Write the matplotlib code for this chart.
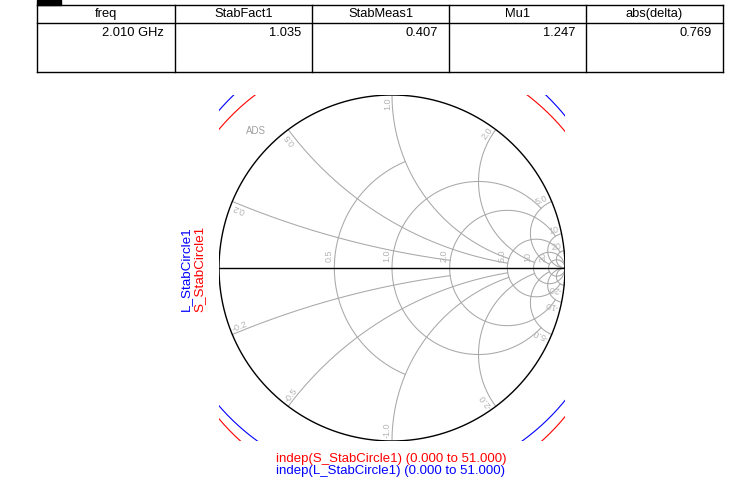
import numpy as np
import matplotlib.pyplot as plt

plt.rcParams['font.family'] = ['Liberation Sans', 'DejaVu Sans']

# table data
col_names = ['freq', 'StabFact1', 'StabMeas1', 'Mu1', 'abs(delta)']
col_values = ['2.010 GHz', '1.035', '0.407', '1.247', '0.769']

# stability circles (centre x, centre y, radius) in reflection-coefficient plane
s_circle = (-0.005, -0.035, 1.30)
l_circle = (-0.013, 0.057, 1.305)

# smith chart grid values
r_vals = [0.5, 1.0, 2.0, 5.0, 10.0, 20.0]
r_limits = [1.0, 5.0, 10.0, 20.0, np.inf, np.inf]
x_vals = [0.2, 0.5, 1.0, 2.0, 5.0, 10.0, 20.0]
x_limits = [2.0, 5.0, 5.0, 10.0, 20.0, np.inf, np.inf]
r_labels = ['0.5', '1.0', '2.0', '5.0', '10', '20']
x_labels = ['0.2', '0.5', '1.0', '2.0', '5.0', '10', '20']

W, H = 732, 495
fig = plt.figure(figsize=(W / 100, H / 100), dpi=100)

# ---- table ----
tab = fig.add_axes([0, 0, 1, 1])
tab.set_xlim(0, W)
tab.set_ylim(H, 0)
tab.axis('off')
cols = [37, 175, 312, 449, 586, 723]
top, sep, bot = 5, 23, 72
tab.fill_between([37, 61], 0, 5, color='black')
for yy in [top, sep, bot]:
    tab.plot([cols[0], cols[-1]], [yy, yy], color='black', lw=1)
for xx in cols:
    tab.plot([xx, xx], [top, bot], color='black', lw=1)
for i in range(5):
    tab.text((cols[i] + cols[i + 1]) / 2, 14, col_names[i], ha='center', va='center', fontsize=9.3)
    tab.text(cols[i + 1] - 11, 33, col_values[i], ha='right', va='center', fontsize=9.3)

# side and bottom labels
tab.text(186, 269, 'L_StabCircle1', color='blue', rotation=90, ha='center', va='center', fontsize=9.7)
tab.text(200, 269, 'S_StabCircle1', color='red', rotation=90, ha='center', va='center', fontsize=9.7)
tab.text(391, 459, 'indep(S_StabCircle1) (0.000 to 51.000)', color='red', ha='center', va='center', fontsize=9.5)
tab.text(391, 471, 'indep(L_StabCircle1) (0.000 to 51.000)', color='blue', ha='center', va='center', fontsize=9.5)

# ---- smith chart ----
x0, y0, side = 219, 95, 346
ax = fig.add_axes([x0 / W, 1 - (y0 + side) / H, side / W, side / H])
ax.set_xlim(-1, 1)
ax.set_ylim(-1, 1)
ax.axis('off')

grid_c = '#a8a8a8'
lab_c = '#b4b4b4'


def gamma(z):
    return (z - 1) / (z + 1)


for r, lim in zip(r_vals, r_limits):
    phi = np.linspace(-np.arctan(lim), np.arctan(lim), 600)
    g = gamma(r + 1j * np.tan(np.clip(phi, -1.5707, 1.5707)))
    ax.plot(g.real, g.imag, color=grid_c, lw=0.75)

for xv, lim in zip(x_vals, x_limits):
    phi = np.linspace(0, np.arctan(lim), 600)
    for s in [1, -1]:
        g = gamma(np.tan(np.clip(phi, 0, 1.5707)) + 1j * s * xv)
        ax.plot(g.real, g.imag, color=grid_c, lw=0.75)

t = np.linspace(0, 2 * np.pi, 721)
ax.plot(np.cos(t), np.sin(t), color='black', lw=1.0)
ax.plot([-1, 1], [0, 0], color='black', lw=1.0)

for r, lab in zip(r_vals, r_labels):
    gl = (r - 1) / (r + 1)
    ax.text(gl - 0.005, 0.035, lab, rotation=90, ha='left', va='bottom', color=lab_c, fontsize=6.5,
            rotation_mode='anchor')

for xv, lab in zip(x_vals, x_labels):
    for s in [1, -1]:
        g = gamma(1j * s * xv) * 0.985
        ang = np.degrees(np.angle(g))
        if s > 0:
            ax.text(g.real, g.imag, lab, rotation=ang, ha='right', va='bottom', color=lab_c,
                    fontsize=6.5, rotation_mode='anchor')
        else:
            ax.text(g.real, g.imag, '-' + lab, rotation=ang + 180, ha='left', va='bottom', color=lab_c,
                    fontsize=6.5, rotation_mode='anchor')

ax.text(-0.785, 0.79, 'ADS', color='#a0a0a0', fontsize=7, ha='center', va='center')

for (cx, cy, rad), col in [(s_circle, 'red'), (l_circle, 'blue')]:
    ax.plot(cx + rad * np.cos(t), cy + rad * np.sin(t), color=col, lw=0.8)

fig.savefig('out.png', dpi=100)
